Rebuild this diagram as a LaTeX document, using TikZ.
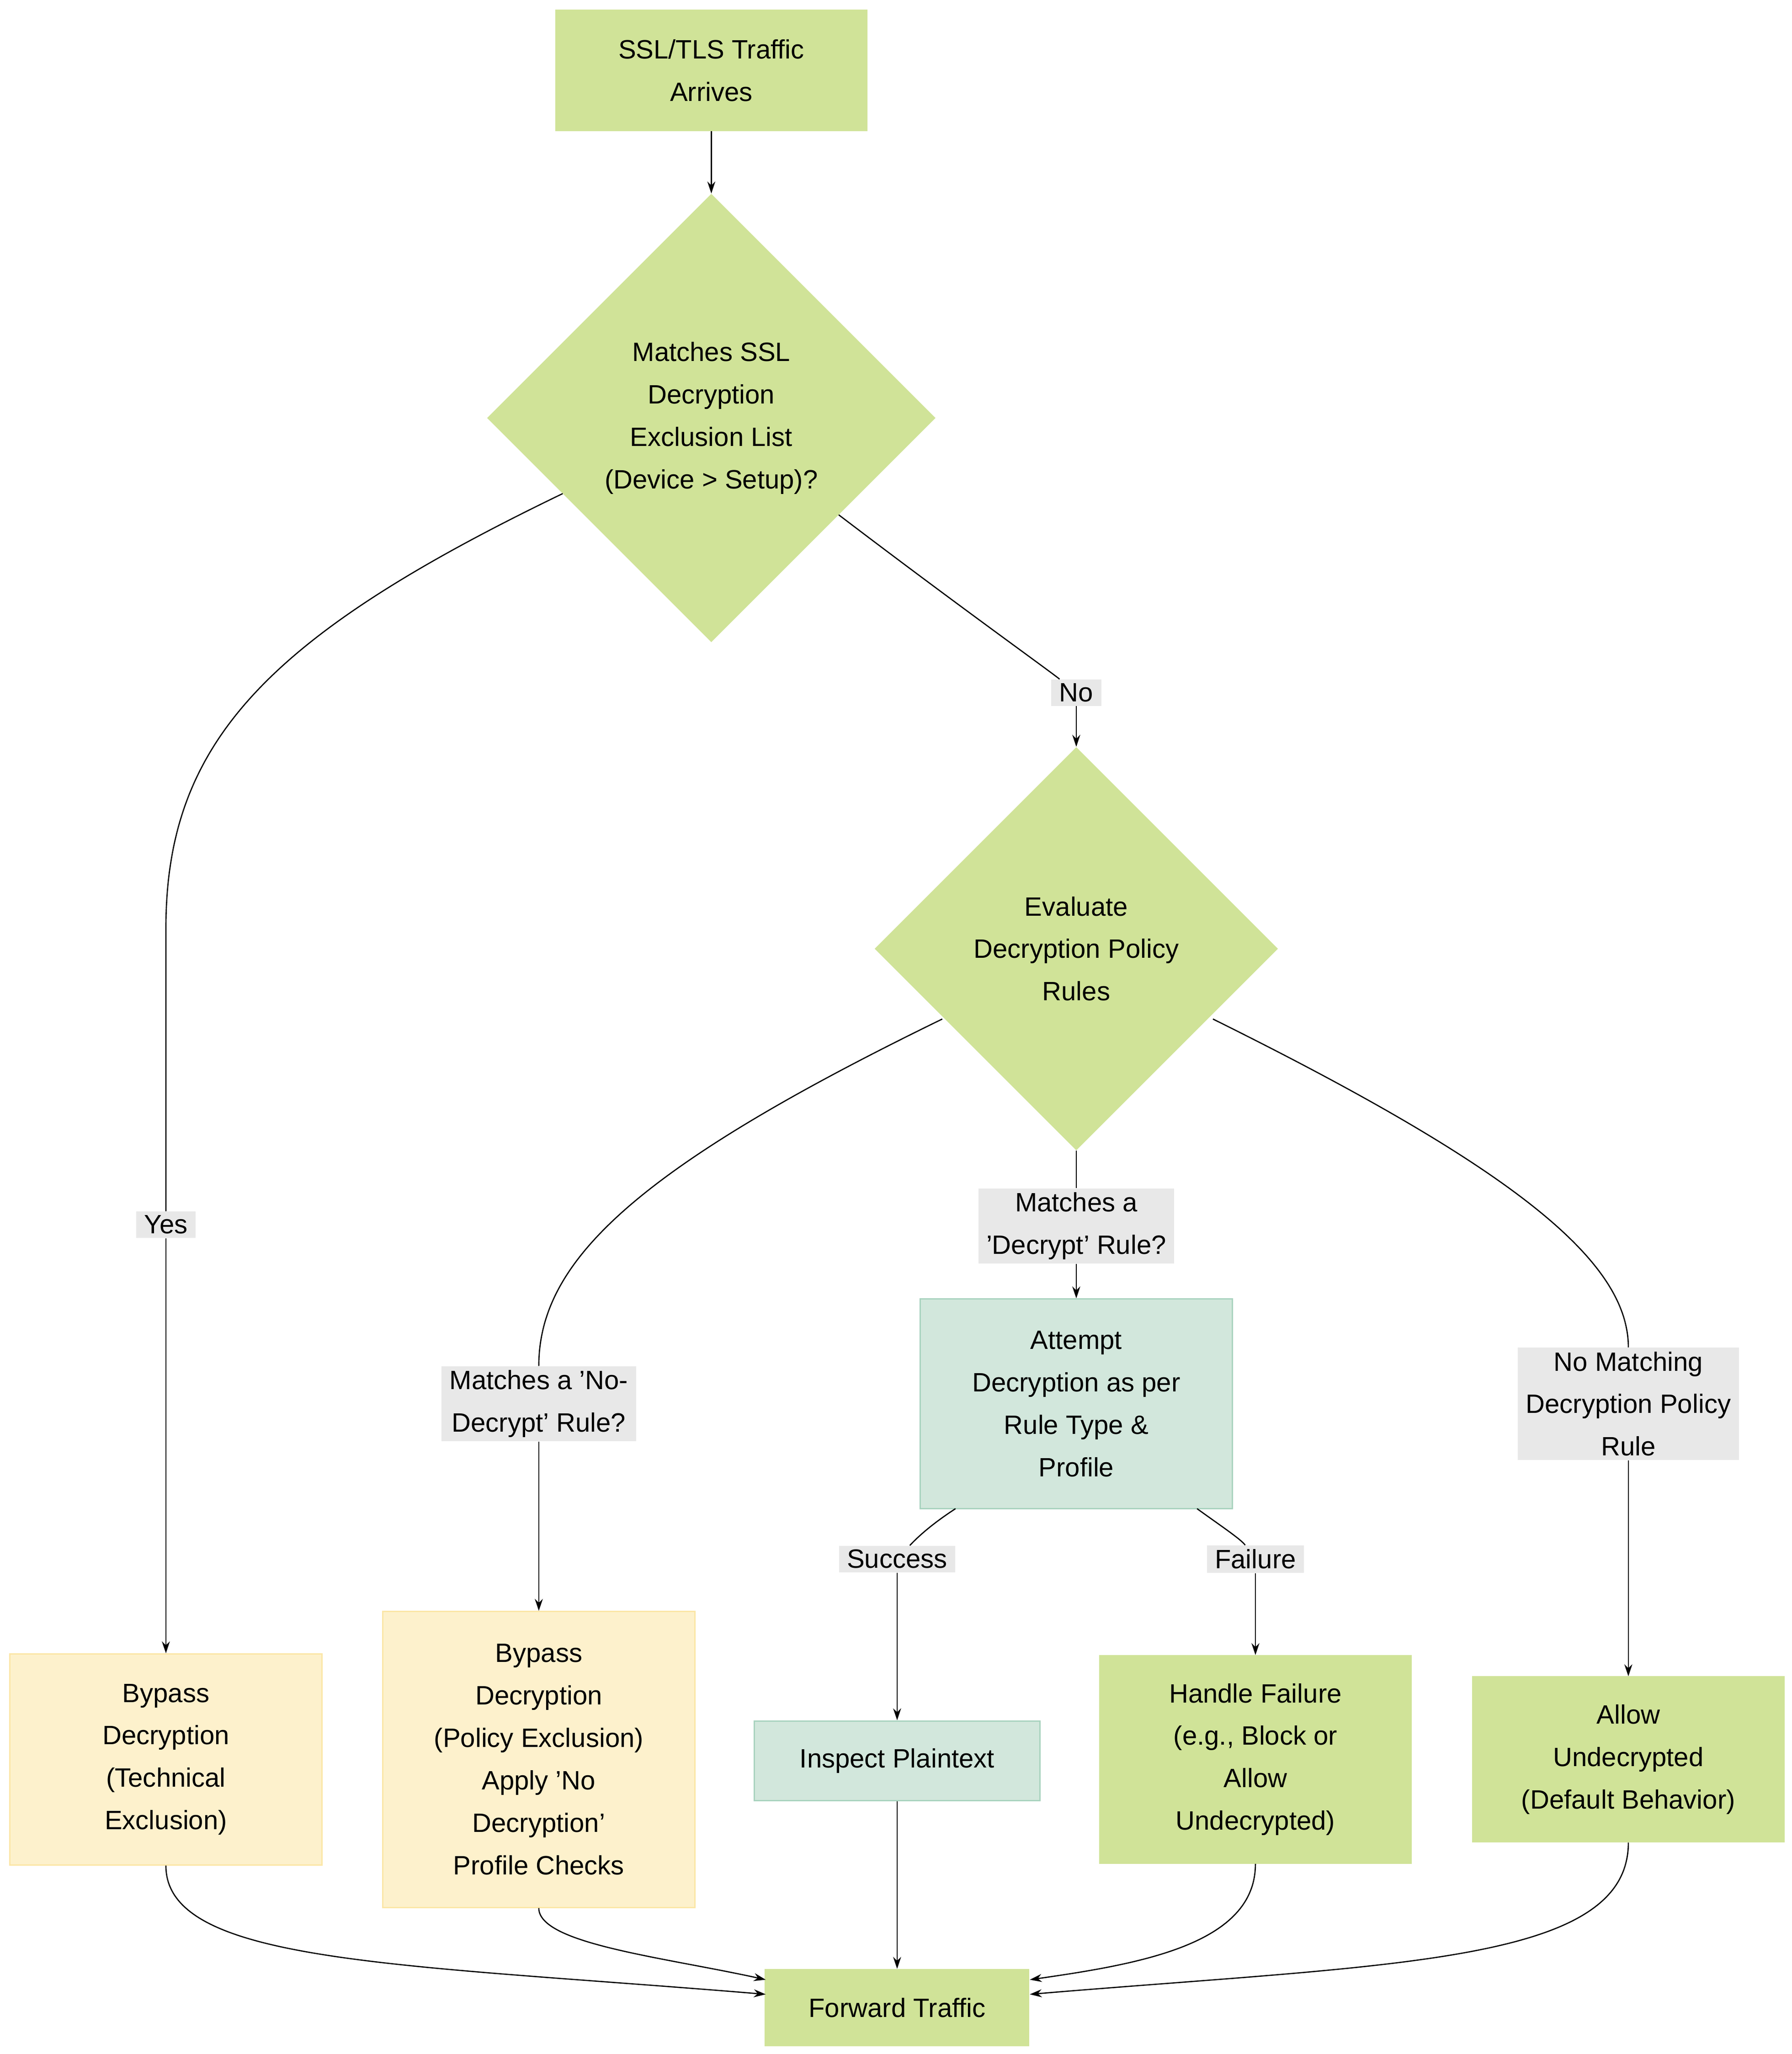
\documentclass[tikz,border=0pt]{standalone}
\usepackage{fontspec}
\setmainfont{Liberation Sans}
\usetikzlibrary{shapes.geometric,arrows.meta}
\definecolor{grn}{HTML}{D0E398}
\definecolor{teal}{HTML}{D2E7DC}
\definecolor{tealb}{HTML}{A9D3BF}
\definecolor{yel}{HTML}{FDF1CC}
\definecolor{yelb}{HTML}{FBE6A6}
\definecolor{lab}{HTML}{E8E8E8}
\begin{document}
\begin{tikzpicture}[x=1pt,y=-1pt,
 every node/.style={font=\fontsize{20}{32}\selectfont,align=center,inner sep=0pt},
 box/.style={draw=#1,line width=1pt,minimum width=235pt},
 gbox/.style={fill=grn,draw=grn,minimum width=235pt},
 dia/.style={diamond,fill=grn,aspect=1},
 lbl/.style={fill=lab,inner xsep=6pt,inner ysep=3pt},
 edge/.style={draw=black,line width=0.9pt,-{Stealth[length=9pt,width=6pt]}},
 line/.style={draw=black,line width=0.9pt}]
\useasboundingbox (0,0) rectangle (1350,1548);
\node[gbox,minimum height=91pt] (start) at (536,53) {SSL/TLS Traffic\\Arrives};
\node[dia,minimum width=338pt,minimum height=338pt] (d1) at (536,315) {Matches SSL\\Decryption\\Exclusion List\\(Device > Setup)?};
\node[dia,minimum width=304pt,minimum height=304pt] (d2) at (811,715) {Evaluate\\Decryption Policy\\Rules};
\node[box=tealb,fill=teal,minimum height=158pt] (att) at (811,1058) {Attempt\\Decryption as per\\Rule Type \&\\Profile};
\node[box=yelb,fill=yel,minimum height=159pt] (b1) at (125,1326) {Bypass\\Decryption\\(Technical\\ Exclusion)};
\node[box=yelb,fill=yel,minimum height=223pt] (b2) at (406,1326) {Bypass\\Decryption\\(Policy Exclusion)\\Apply 'No\\Decryption'\\Profile Checks};
\node[box=tealb,fill=teal,minimum width=215pt,minimum height=60pt] (insp) at (676,1327) {Inspect Plaintext};
\node[gbox,minimum height=157pt] (hf) at (946,1326) {Handle Failure\\(e.g., Block or\\Allow\\Undecrypted)};
\node[gbox,minimum height=125pt] (al) at (1227,1326) {Allow\\Undecrypted\\(Default Behavior)};
\node[gbox,minimum width=199pt,minimum height=58pt] (fwd) at (676,1513) {Forward Traffic};
\node[lbl] (yes) at (125,923) {Yes};
\node[lbl] (no) at (811,522) {No};
\node[lbl] (dec) at (811,924) {Matches a\\'Decrypt' Rule?};
\node[lbl] (nodec) at (406,1058) {Matches a 'No-\\Decrypt' Rule?};
\node[lbl] (nm) at (1227,1058) {No Matching\\Decryption Policy\\Rule};
\node[lbl] (succ) at (676,1175) {Success};
\node[lbl] (fail) at (946,1175) {Failure};
\coordinate (a1) at (424,372);
\coordinate (a2) at (632,388);
\coordinate (a3) at (710,768);
\coordinate (a4) at (914,768);
\coordinate (a5) at (720,1137);
\coordinate (a6) at (902,1137);
\coordinate (f1) at (577,1503);
\coordinate (f2) at (577,1492);
\coordinate (f3) at (776,1492);
\coordinate (f4) at (776,1503);
\draw[edge] (start) -- (d1);
\draw[line] (a1) .. controls (200,480) and (125,560) .. (125,700) -- (yes);
\draw[edge] (yes) -- (b1);
\draw[line] (a2) .. controls (720,455) and (790,505) .. (no);
\draw[edge] (no) -- (d2);
\draw[line] (a3) .. controls (480,880) and (406,950) .. (nodec);
\draw[edge] (nodec) -- (b2);
\draw[line] (d2) -- (dec);
\draw[edge] (dec) -- (att);
\draw[line] (a4) .. controls (1140,880) and (1227,950) .. (nm);
\draw[edge] (nm) -- (al);
\draw[line] (a5) .. controls (700,1150) and (690,1160) .. (succ);
\draw[edge] (succ) .. controls (676,1200) .. (insp);
\draw[line] (a6) .. controls (920,1150) and (935,1160) .. (fail);
\draw[edge] (fail) .. controls (946,1200) .. (hf);
\draw[edge] (insp) -- (fwd);
\draw[edge] (b1.south) .. controls (125,1480) and (300,1480) .. (f1);
\draw[edge] (b2.south) .. controls (406,1465) and (500,1475) .. (f2);
\draw[edge] (hf.south) .. controls (946,1465) and (860,1480) .. (f3);
\draw[edge] (al.south) .. controls (1227,1480) and (1050,1480) .. (f4);
\end{tikzpicture}
\end{document}
